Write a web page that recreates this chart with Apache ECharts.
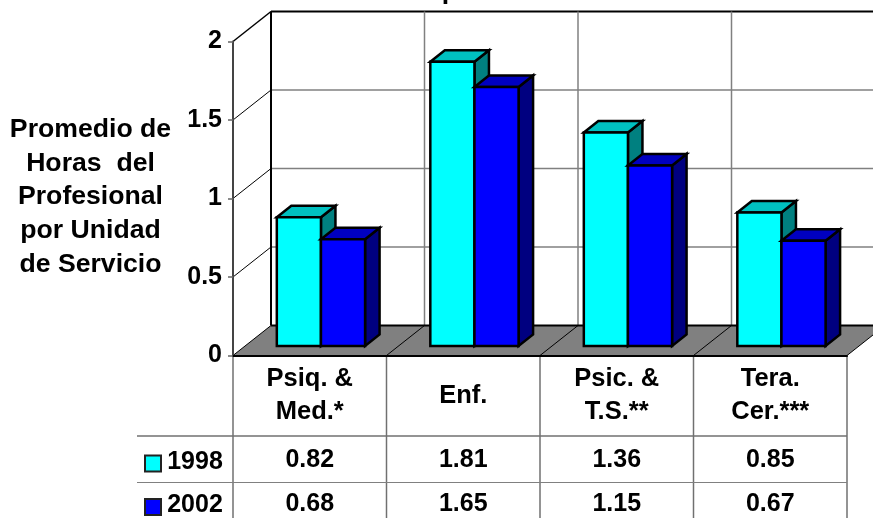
<!DOCTYPE html>
<html>
<head>
<meta charset="utf-8">
<style>
  html, body { margin: 0; padding: 0; background: #fff; }
  #chart { width: 873px; height: 518px; overflow: hidden; }
</style>
<script src="https://cdn.jsdelivr.net/npm/echarts@6/dist/echarts.min.js"></script>
</head>
<body>
<div id="chart"></div>
<script>
const categories = ["Psiq. &\nMed.*", "Enf.", "Psic. &\nT.S.**", "Tera.\nCer.***"];
const years = ["1998", "2002"];
const values1998 = [0.82, 1.81, 1.36, 0.85];
const values2002 = [0.68, 1.65, 1.15, 0.67];
const labels1998 = ["0.82", "1.81", "1.36", "0.85"];
const labels2002 = ["0.68", "1.65", "1.15", "0.67"];
const yTicks = [0, 0.5, 1, 1.5, 2];
const yTitle = ["Promedio de", "Horas  del", "Profesional", "por Unidad", "de Servicio"];
const chartTitle = "Completo";

const FONT = "'Liberation Sans', Arial, sans-serif";
const wall = { x: 38, y: -30 };     // profundidad del piso
const front = { x: 13.2, y: -9.5 }; // plano de las barras
const depth = { x: 14.5, y: -11.5 }; // profundidad de cada barra
const colors = {
  "1998": ["#00ffff", "#00c0c0", "#008080"],
  "2002": ["#0000ff", "#0000c0", "#000080"],
};

const chart = echarts.init(document.getElementById("chart"));

const line = (x1, y1, x2, y2, stroke, lineWidth) => ({
  type: "line",
  shape: { x1, y1, x2, y2 },
  style: { stroke, lineWidth },
});
const poly = (points, fill) => ({
  type: "polygon",
  shape: { points },
  style: { fill, stroke: "#000", lineWidth: 2.5, lineJoin: "miter" },
});
const text = (x, y, str, size, scaleX) => ({
  type: "text",
  x,
  y,
  scaleX: scaleX || 1,
  style: {
    text: str,
    fill: "#000",
    font: "bold " + size + "px " + FONT,
    align: "center",
    verticalAlign: "middle",
  },
});

// paredes, piso y tabla
const renderFrame = (params, api) => {
  const children = [];
  const band = api.size([1, 0])[0];
  const [x0, y0] = api.coord([0, 0]);
  const left = x0 - band / 2;
  const n = categories.length;
  const yTop = api.coord([0, 2])[1];

  // lineas de la pared de fondo
  yTicks.slice(1).forEach((t) => {
    const y = api.coord([0, t])[1];
    const dark = t === 2;
    children.push(line(left, y, left + wall.x, y + wall.y, "#000", dark ? 1.5 : 1));
    children.push(line(left + wall.x, y + wall.y, left + wall.x + n * band, y + wall.y, dark ? "#000" : "#808080", dark ? 2 : 1.5));
  });
  for (let i = 1; i <= n; i++) {
    const x = left + i * band + wall.x;
    children.push(line(x, yTop + wall.y, x, y0 + wall.y, "#808080", 1.5));
  }
  children.push(line(left + wall.x, yTop + wall.y, left + wall.x, y0 + wall.y, "#000", 2));

  // piso
  children.push({
    type: "polygon",
    shape: {
      points: [
        [left, y0],
        [left + wall.x, y0 + wall.y],
        [left + wall.x + n * band, y0 + wall.y],
        [left + n * band, y0],
      ],
    },
    style: { fill: "#808080", stroke: "none" },
  });
  children.push(line(left + wall.x, y0 + wall.y, left + wall.x + n * band, y0 + wall.y, "#000", 2));
  for (let i = 0; i <= n; i++) {
    const x = left + i * band;
    children.push(line(x, y0, x + wall.x, y0 + wall.y, "#000", 1));
  }

  // tabla de datos
  for (let i = 0; i <= n; i++) {
    const x = left + i * band;
    children.push(line(x, y0, x, 518, "#707070", 1.5));
  }
  children.push(line(137, 436, left + n * band, 436, "#707070", 1.5));
  children.push(line(137, 482.5, left + n * band, 482.5, "#808080", 1));

  // titulo del eje, recortado como en el original
  yTitle.forEach((str, i) => {
    children.push(text(90.5, 130 + i * 33.8, str, 25, 1.065));
  });
  children.push(text(444, -8, chartTitle, 25, 1.065));

  return { type: "group", children };
};

const renderRow = (labels, rowY) => (params, api) => {
  const i = api.value(0);
  const x = api.coord([i, 0])[0];
  return text(x, rowY, labels[i], 25, 1);
};

const renderKeys = (params, api) => {
  const i = api.value(0);
  const rowY = i === 0 ? 462.5 : 506;
  return {
    type: "group",
    children: [
      {
        type: "rect",
        shape: { x: 145, y: rowY - 7, width: 16, height: 16 },
        style: { fill: colors[years[i]][0], stroke: "#222", lineWidth: 2 },
      },
      text(195, rowY - 0.5, years[i], 25, 1),
    ],
  };
};

const renderBars = (year, slot) => (params, api) => {
  const i = api.value(0);
  const band = api.size([1, 0])[0];
  const w = band * 0.2875;
  const c0 = api.coord([i, 0]);
  const c1 = api.coord([i, api.value(1)]);
  const x1 = c0[0] - w + slot * w + front.x - 2;
  const x2 = x1 + w;
  const yb = c0[1] + front.y;
  const yt = c1[1] + front.y;
  const [main, top, side] = colors[year];
  return {
    type: "group",
    children: [
      poly([[x2, yt], [x2 + depth.x, yt + depth.y], [x2 + depth.x, yb + depth.y], [x2, yb]], side),
      poly([[x1, yt], [x1 + depth.x, yt + depth.y], [x2 + depth.x, yt + depth.y], [x2, yt]], top),
      poly([[x1, yt], [x2, yt], [x2, yb], [x1, yb]], main),
    ],
  };
};

const idx = categories.map((c, i) => i);

chart.setOption({
  animation: false,
  backgroundColor: "#fff",
  grid: { left: 233, top: 41.5, width: 614, height: 314 },
  xAxis: {
    type: "category",
    data: categories,
    z: 5,
    axisLine: { lineStyle: { color: "#000", width: 2 } },
    axisTick: { show: false },
    axisLabel: {
      interval: 0,
      margin: 40,
      color: "#000",
      fontFamily: FONT,
      fontWeight: "bold",
      fontSize: 25.5,
      lineHeight: 33,
      verticalAlign: "middle",
    },
  },
  yAxis: {
    type: "value",
    min: 0,
    max: 2,
    interval: 0.5,
    z: 5,
    splitLine: { show: false },
    axisLine: { show: true, lineStyle: { color: "#444", width: 2 } },
    axisTick: { show: true, length: 5, lineStyle: { color: "#666", width: 1.5 } },
    axisLabel: {
      margin: 11,
      color: "#000",
      fontFamily: FONT,
      fontWeight: "bold",
      fontSize: 25,
      formatter: (v) => String(v),
    },
  },
  series: [
    { type: "custom", name: "marco", coordinateSystem: "cartesian2d", clip: false, z: 1, data: [[0, 0]], renderItem: renderFrame, silent: true },
    { type: "custom", name: years[0], coordinateSystem: "cartesian2d", clip: false, z: 2, data: idx.map((i) => [i, values1998[i]]), renderItem: renderBars(years[0], 0), encode: { x: 0, y: 1 } },
    { type: "custom", name: years[1], coordinateSystem: "cartesian2d", clip: false, z: 3, data: idx.map((i) => [i, values2002[i]]), renderItem: renderBars(years[1], 1), encode: { x: 0, y: 1 } },
    { type: "custom", name: "fila1998", coordinateSystem: "cartesian2d", clip: false, z: 4, data: idx.map((i) => [i, 0]), renderItem: renderRow(labels1998, 460.5), silent: true },
    { type: "custom", name: "fila2002", coordinateSystem: "cartesian2d", clip: false, z: 4, data: idx.map((i) => [i, 0]), renderItem: renderRow(labels2002, 504.5), silent: true },
    { type: "custom", name: "leyenda", coordinateSystem: "cartesian2d", clip: false, z: 4, data: [[0, 0], [1, 0]], renderItem: renderKeys, silent: true },
  ],
});
</script>
</body>
</html>
